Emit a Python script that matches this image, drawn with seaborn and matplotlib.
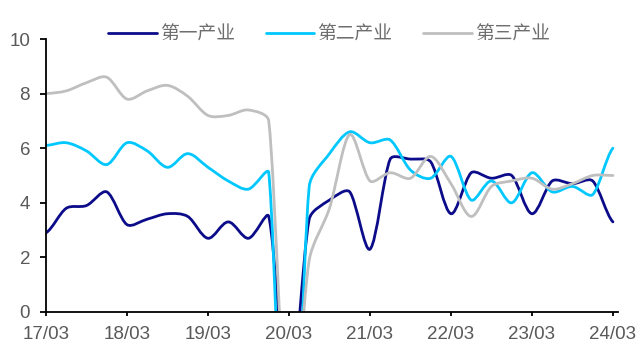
import numpy as np
import pandas as pd
import matplotlib
matplotlib.use('Agg')
import matplotlib.pyplot as plt
from matplotlib.path import Path
from matplotlib.patches import PathPatch
from matplotlib.lines import Line2D
import seaborn as sns

# quarterly growth, 17Q1 .. 24Q1 (20Q1 values fall below the 0 floor of the axis)
tick_labels = ['17/03', '18/03', '19/03', '20/03', '21/03', '22/03', '23/03', '24/03']
series_names = ['第一产业', '第二产业', '第三产业']
primary = [2.9, 3.8, 3.9, 4.4,
           3.2, 3.4, 3.6, 3.5,
           2.7, 3.3, 2.7, 3.5,
           -3.2, 3.4, 4.1, 4.4,
           2.3, 5.6, 5.6, 5.5,
           3.6, 5.1, 4.9, 5.0,
           3.6, 4.8, 4.7, 4.8,
           3.3]
secondary = [6.1, 6.2, 5.9, 5.4,
             6.2, 5.9, 5.3, 5.8,
             5.3, 4.8, 4.5, 5.1,
             -9.6, 4.6, 5.8, 6.6,
             6.2, 6.3, 5.2, 4.9,
             5.7, 4.1, 4.8, 4.0,
             5.1, 4.4, 4.6, 4.3,
             6.0]
tertiary = [8.0, 8.1, 8.4, 8.6,
            7.8, 8.1, 8.3, 7.9,
            7.2, 7.2, 7.4, 7.0,
            -5.2, 1.9, 3.8, 6.5,
            4.8, 5.1, 4.9, 5.7,
            4.7, 3.5, 4.6, 4.8,
            4.9, 4.5, 4.7, 5.0,
            5.0]
colors = ['#0C0C8A', '#00C8FF', '#BFBFBF']

n = len(primary)
df = pd.DataFrame({
    'q': np.tile(np.arange(n), 3),
    'value': primary + secondary + tertiary,
    'sector': np.repeat(series_names, n),
})


def smooth_path(xy, sx=20.25, sy=27.3):
    # smoothed line as bezier segments (catmull-rom tangents); the handle on
    # a short side is shortened, excel-like, so the 20Q1 drop does not overshoot
    x, y = xy[:, 0], xy[:, 1]
    seg = np.hypot(np.diff(x) * sx, np.diff(y) * sy)
    s = np.diff(y) / np.diff(x)
    m = np.r_[s[0] / 2, (s[:-1] + s[1:]) / 2, s[-1] / 2]
    back = np.ones(len(y))
    fwd = np.ones(len(y))
    for i in range(1, len(y) - 1):
        avg = (seg[i - 1] + seg[i]) / 2
        back[i] = min(1, seg[i - 1] / avg)
        fwd[i] = min(1, seg[i] / avg)
    verts = [xy[0]]
    codes = [Path.MOVETO]
    for i in range(len(y) - 1):
        h = (x[i + 1] - x[i]) / 3
        a = h * fwd[i]
        b = h * back[i + 1]
        verts += [(x[i] + a, y[i] + m[i] * a),
                  (x[i + 1] - b, y[i + 1] - m[i + 1] * b),
                  (x[i + 1], y[i + 1])]
        codes += [Path.CURVE4] * 3
    return Path(np.array(verts), codes)


sns.set_theme(style='ticks')
plt.rcParams['font.family'] = ['Liberation Sans', 'Noto Sans CJK SC', 'DejaVu Sans']

fig = plt.figure(figsize=(6.41, 3.40), dpi=100)
ax = fig.add_axes([46 / 641, 28 / 340, 572 / 641, 273 / 340])

sns.lineplot(data=df, x='q', y='value', hue='sector', palette=colors,
             legend=False, ax=ax)

# swap the straight polylines for smoothed curves
for line in list(ax.lines):
    patch = PathPatch(smooth_path(line.get_xydata()), fill=False,
                      edgecolor=line.get_color(), lw=2,
                      capstyle='round', joinstyle='round')
    ax.add_patch(patch)
    line.remove()

ax.set_xlim(0, 28.25)
ax.set_ylim(0, 10)
ax.set_yticks(range(0, 11, 2))
ax.set_xticks(range(0, n, 4))
ax.set_xticklabels(tick_labels)
ax.set_xlabel('')
ax.set_ylabel('')

sns.despine(ax=ax)
for side in ['left', 'bottom']:
    ax.spines[side].set_color('black')
    ax.spines[side].set_linewidth(1.3)
ax.tick_params(axis='both', direction='out', width=1.3, color='black',
               labelcolor='#595959', labelsize=13.5)
ax.tick_params(axis='x', length=3, pad=7)
ax.tick_params(axis='y', length=4.5, pad=7)

handles = [Line2D([], [], color=c, lw=2) for c in colors]
leg = fig.legend(handles, series_names, loc='center', bbox_to_anchor=(0.513, 0.9),
                 ncol=3, frameon=False, handlelength=2.6, handletextpad=0.15,
                 columnspacing=1.65,
                 prop={'family': ['Noto Sans CJK SC'], 'size': 13.5, 'weight': 'light'})
for t in leg.get_texts():
    t.set_color('#6E6E6E')

fig.savefig('out.png', dpi=100)
